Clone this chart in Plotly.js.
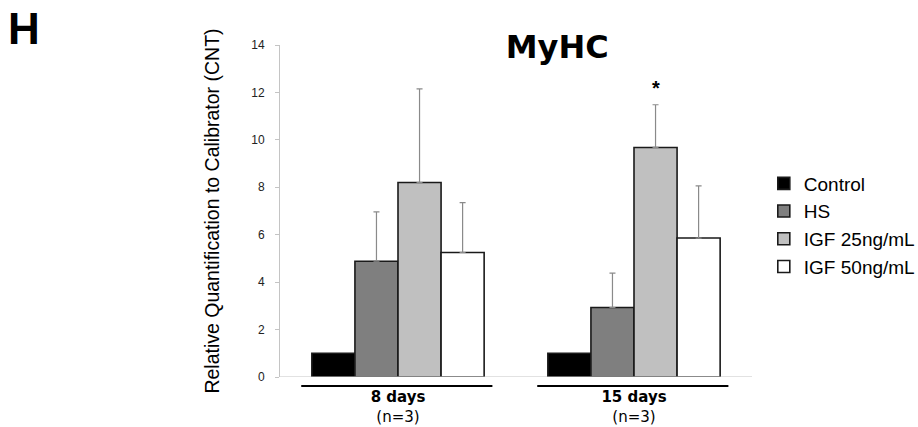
<!DOCTYPE html>
<html>
<head>
<meta charset="utf-8">
<script src="https://cdn.plot.ly/plotly-3.0.1.min.js"></script>
<style>html,body{margin:0;padding:0;background:#fff;}#chart{width:918px;height:427px;}</style>
</head>
<body>
<div id="chart"></div>
<script>
const categories = ["8 days", "15 days"];
const tickLabels = ["<b>8 days</b><br>(n=3)", "<b>15 days</b><br>(n=3)"];
const seriesNames = ["Control", "HS", "IGF 25ng/mL", "IGF 50ng/mL"];
const controlVals = [1.0, 1.0];
const hsVals = [4.88, 2.93];
const igf25Vals = [8.2, 9.68];
const igf50Vals = [5.25, 5.86];
const controlErr = [0, 0];
const hsErr = [2.08, 1.45];
const igf25Err = [3.95, 1.8];
const igf50Err = [2.1, 2.2];
const seriesColors = ["#000000", "#7f7f7f", "#c0c0c0", "#ffffff"];
const sigLabel = "*";

const values = [controlVals, hsVals, igf25Vals, igf50Vals];
const errs = [controlErr, hsErr, igf25Err, igf50Err];

const traces = seriesNames.map((n, i) => ({
  type: "bar",
  name: n,
  x: [0, 1],
  y: values[i],
  marker: {color: seriesColors[i], line: {color: "#1a1a1a", width: 1.6}},
  error_y: {
    type: "data", symmetric: false, array: errs[i], arrayminus: [0, 0],
    visible: i > 0, color: "#8a8a8a", thickness: 1.2, width: 3
  }
}));

const groupWidth = 0.73, nSeries = 4;
const barW = groupWidth / nSeries;
const igfOffset = -groupWidth / 2 + barW * 2.5;

const wide = "DejaVu Sans, Verdana, sans-serif";
const arial = "Liberation Sans, Arial, sans-serif";

const layout = {
  width: 918, height: 427,
  margin: {l: 280, r: 166, t: 45, b: 50, autoexpand: false},
  paper_bgcolor: "#fff", plot_bgcolor: "#fff",
  font: {family: arial, color: "#000"},
  barmode: "group", bargap: 0.27, bargroupgap: 0,
  title: {text: "<b>MyHC</b>", font: {size: 32, color: "#000", family: wide}, x: 0.607, xanchor: "center", y: 0.89, yanchor: "middle"},
  showlegend: true,
  legend: {x: 1.025, y: 0.64, xanchor: "left", yanchor: "top", font: {size: 19, color: "#000", family: arial}, itemwidth: 30, tracegroupgap: 0, bgcolor: "rgba(0,0,0,0)"},
  xaxis: {
    range: [-0.5, 1.5], tickmode: "array", tickvals: [0, 1], ticktext: tickLabels,
    showline: false, showgrid: false, zeroline: false, ticks: "",
    tickfont: {size: 15, color: "#000", family: wide}, ticklabelstandoff: 9
  },
  yaxis: {
    range: [0, 14], dtick: 2, showgrid: false, zeroline: false,
    showline: true, linecolor: "#c4c4c4", linewidth: 1,
    ticks: "outside", ticklen: 4, tickcolor: "#c4c4c4",
    tickfont: {size: 12, color: "#222"}, ticklabelstandoff: 8,
    title: {text: "Relative Quantification to Calibrator (CNT)", font: {size: 19.5, color: "#000", family: arial}, standoff: 26}
  },
  shapes: [
    {type: "line", xref: "paper", yref: "y", x0: 0, x1: 1, y0: 0, y1: 0, line: {color: "#c4c4c4", width: 1}},
    ...categories.map((c, i) => ({type: "line", xref: "x", yref: "paper", x0: i - 0.41, x1: i + 0.4, y0: -0.027, y1: -0.027, line: {color: "#000", width: 2}}))
  ],
  annotations: [
    {text: "<b>H</b>", xref: "paper", yref: "paper", x: -0.58, y: 1.13, xanchor: "left", yanchor: "top", showarrow: false, font: {size: 44, color: "#000"}},
    {text: "<b>" + sigLabel + "</b>", xref: "x", yref: "y", x: 1 + igfOffset, y: igf25Vals[1] + igf25Err[1], yanchor: "bottom", yshift: 4, showarrow: false, font: {size: 20, color: "#000"}}
  ]
};

Plotly.newPlot("chart", traces, layout, {displayModeBar: false, staticPlot: true});
</script>
</body>
</html>
